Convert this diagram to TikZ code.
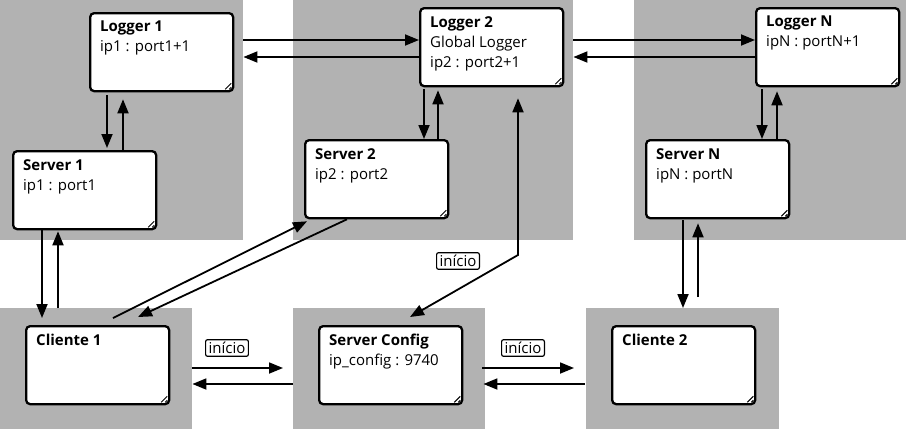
\documentclass[tikz,border=0pt]{standalone}
\usepackage{fontspec}
\setmainfont{Open Sans}
\usetikzlibrary{arrows.meta,calc}
\begin{document}
\begin{tikzpicture}[x=1pt,y=-1pt,
  region/.style={fill=black!30, draw=none, inner sep=0pt, anchor=north west},
  box/.style={draw, line width=2.3pt, fill=white, rounded corners=4pt, minimum width=143pt, minimum height=78pt, anchor=north west, inner sep=0pt},
  boxtext/.style={anchor=north west, align=left, inner sep=0pt, font=\fontsize{15}{20}\selectfont},
  tag/.style={draw, line width=1.2pt, rounded corners=2pt, fill=white, inner xsep=3pt, inner ysep=2.5pt, font=\fontsize{15}{16}\selectfont},
  conn/.style={line width=1.8pt, -{Triangle[length=14pt,width=11pt]}},
  bothconn/.style={line width=1.8pt, {Triangle[length=14pt,width=11pt]}-{Triangle[length=14pt,width=11pt]}},
  grip/.style={line width=0.9pt}]
\useasboundingbox (0,0) rectangle (907,429);
% gray regions
\node[region, minimum width=243pt, minimum height=240pt] (g1) at (0,0) {};
\node[region, minimum width=280pt, minimum height=240pt] (g2) at (293,0) {};
\node[region, minimum width=272pt, minimum height=240pt] (g3) at (634,0) {};
\node[region, minimum width=192pt, minimum height=121pt] (g4) at (0,308) {};
\node[region, minimum width=192pt, minimum height=121pt] (g5) at (293,308) {};
\node[region, minimum width=193pt, minimum height=121pt] (g6) at (586,308) {};
% boxes
\node[box] (L1) at (89,12) {};
\node[box] (S1) at (12,150) {};
\node[box] (L2) at (419,7) {};
\node[box] (S2) at (304,139) {};
\node[box] (LN) at (755,7) {};
\node[box] (SN) at (645,139) {};
\node[box] (C1) at (25,325) {};
\node[box] (SC) at (318,325) {};
\node[box] (C2) at (611,325) {};
% texts
\node[boxtext] (L1t) at ($(L1.north west)+(11,9)$) {\textbf{Logger 1}\\ip1 : port1+1};
\node[boxtext] (S1t) at ($(S1.north west)+(11,9)$) {\textbf{Server 1}\\ip1 : port1};
\node[boxtext] (L2t) at ($(L2.north west)+(11,9)$) {\textbf{Logger 2}\\Global Logger\\ip2 : port2+1};
\node[boxtext] (S2t) at ($(S2.north west)+(11,9)$) {\textbf{Server 2}\\ip2 : port2};
\node[boxtext] (LNt) at ($(LN.north west)+(11,9)$) {\textbf{Logger N}\\ipN : portN+1};
\node[boxtext] (SNt) at ($(SN.north west)+(11,9)$) {\textbf{Server N}\\ipN : portN};
\node[boxtext] (C1t) at ($(C1.north west)+(11,9)$) {\textbf{Cliente 1}};
\node[boxtext] (SCt) at ($(SC.north west)+(11,9)$) {\textbf{Server Config}\\ip\_config : 9740};
\node[boxtext] (C2t) at ($(C2.north west)+(11,9)$) {\textbf{Cliente 2}};
% grips
\foreach \b in {L1,S1,L2,S2,LN,SN,C1,SC,C2} {
  \draw[grip] ($(\b.south east)+(-9,-3)$) -- ($(\b.south east)+(-3,-9)$);
  \draw[grip] ($(\b.south east)+(-5,-3)$) -- ($(\b.south east)+(-3,-5)$);
}
% logger <-> server
\draw[conn, shorten <=3pt, shorten >=2pt] (107,0 |- L1.south) -- (107,0 |- S1.north);
\draw[conn, shorten >=7pt] (123,0 |- S1.north) -- (123,0 |- L1.south);
\draw[conn, shorten <=2pt] (424,0 |- L2.south) -- (424,0 |- S2.north);
\draw[conn, shorten >=3pt] (438,0 |- S2.north) -- (438,0 |- L2.south);
\draw[conn, shorten <=2pt] (762,0 |- LN.south) -- (762,0 |- SN.north);
\draw[conn, shorten >=4pt] (777,0 |- SN.north) -- (777,0 |- LN.south);
% logger <-> logger
\draw[conn] (g1.east |- 0,40) -- (L2.west |- 0,40);
\draw[conn] (L2.west |- 0,57) -- (g1.east |- 0,57);
\draw[conn] (g2.east |- 0,40) -- (LN.west |- 0,40);
\draw[conn] (LN.west |- 0,57) -- (g2.east |- 0,57);
% server <-> client
\draw[conn] (42,0 |- S1.south) -- ($(42,0 |- C1.north)+(0,-7)$);
\draw[conn, shorten >=1pt] ($(58,0 |- C1.north)+(0,-17)$) -- (58,0 |- S1.south);
\draw[conn] ($(113,0 |- C1.north)+(0,-7)$) -- ($(S2.south west)+(3,2)$);
\draw[conn] (347,0 |- S2.south) -- ($(138,0 |- C1.north)+(0,-8)$);
\draw[conn, shorten <=1pt] (683,0 |- SN.south) -- (683,0 |- g6.north);
\draw[conn, shorten >=4pt] ($(698,0 |- g6.north)+(0,-11)$) -- (698,0 |- SN.south);
% server config <-> logger 2
\coordinate (bend) at (518,255);
\draw[bothconn] ($(410,0 |- SC.north)+(0,-8)$) -- (bend) -- ($(518,0 |- L2.south)+(0,11)$);
\node[tag] (t1) at (458,261) {início};
% clients <-> server config
\draw[conn] (g4.east |- 0,368) -- ($(g5.west |- 0,368)+(-10,0)$);
\draw[conn] (g5.west |- 0,384) -- (g4.east |- 0,384);
\draw[conn] ($(g5.east |- 0,368)+(-3,0)$) -- ($(g6.west |- 0,368)+(-12,0)$);
\draw[conn] ($(g6.west |- 0,384)+(-1,0)$) -- ($(g5.east |- 0,384)+(-2,0)$);
\node[tag] (t2) at (227,348) {início};
\node[tag] (t3) at (523,348) {início};
\end{tikzpicture}
\end{document}
